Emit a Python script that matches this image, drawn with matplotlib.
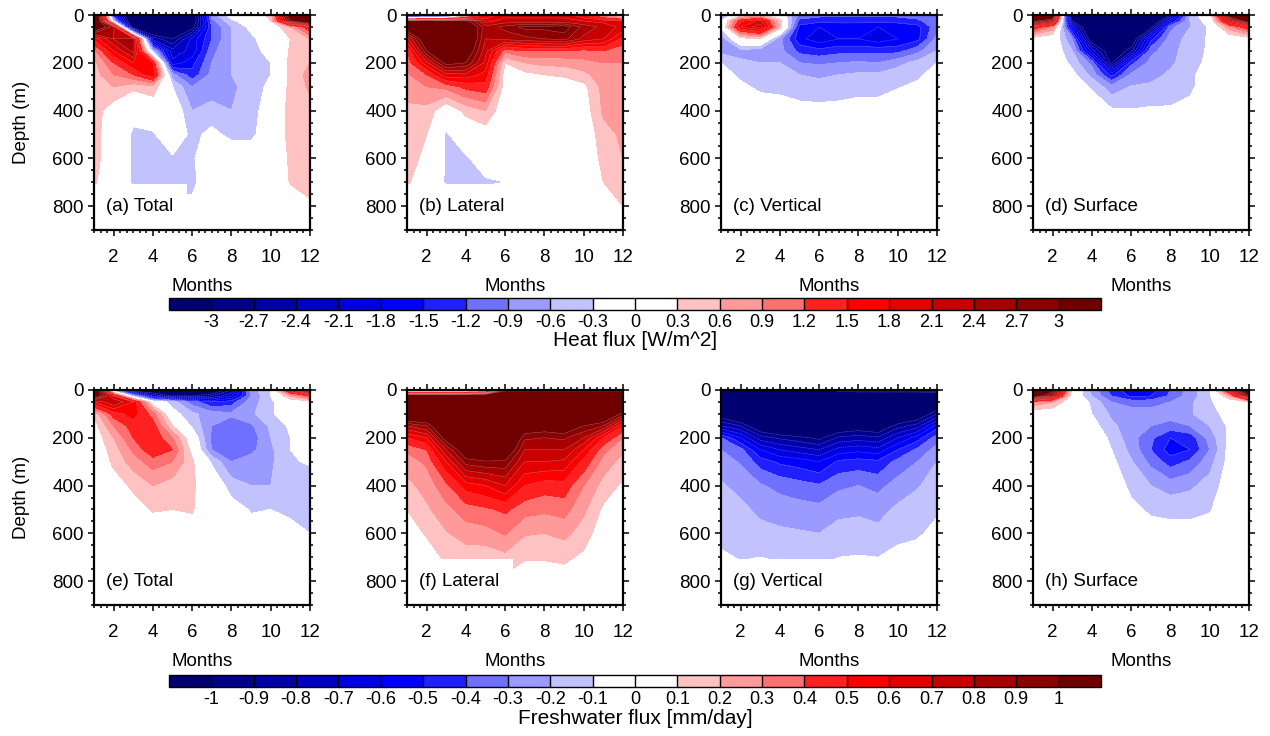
import numpy as np
import matplotlib
matplotlib.use('Agg')
import matplotlib.pyplot as plt
from matplotlib.colors import ListedColormap, BoundaryNorm
from matplotlib.cm import ScalarMappable
from matplotlib.ticker import MultipleLocator

plt.rcParams['font.family'] = ['Liberation Sans', 'DejaVu Sans']

months = [1, 2, 3, 4, 5, 6, 7, 8, 9, 10, 11, 12]
depths = [0, 25, 50, 100, 150, 200, 250, 300, 400, 500, 600, 700, 800, 900]

# heat flux budget terms, rows = depth, columns = month (W/m^2)
heat_total = [
    [4.5, -1.5, -4.0, -4.0, -4.0, -3.5, -0.8, -0.1, 0.0, 0.4, 3.6, 4.5],
    [4.5, -0.5, -4.0, -4.0, -4.0, -3.5, -1.0, -0.4, 0.0, 0.3, 3.0, 4.0],
    [3.8, 2.5, -3.5, -4.0, -4.0, -3.2, -1.2, -0.6, -0.2, 0.0, 0.6, 1.5],
    [1.6, 2.4, 2.6, -2.5, -3.0, -2.0, -1.2, -0.6, -0.4, 0.0, 0.3, 0.6],
    [0.8, 1.8, 2.5, -0.6, -2.3, -2.0, -1.0, -0.6, -0.4, -0.2, 0.35, 0.5],
    [0.5, 1.2, 1.8, 1.5, -2.0, -1.6, -0.9, -0.6, -0.4, -0.3, 0.4, 0.6],
    [0.45, 0.9, 1.2, 1.8, -0.8, -1.4, -0.8, -0.6, -0.4, -0.3, 0.4, 0.7],
    [0.45, 0.6, 0.4, 0.5, -0.3, -0.9, -0.75, -0.65, -0.5, -0.2, 0.4, 0.65],
    [0.45, 0.1, -0.2, 0.0, 0.0, -0.6, -0.5, -0.6, -0.5, 0.0, 0.4, 0.5],
    [0.45, 0.0, -0.35, -0.35, 0.0, -0.4, -0.2, -0.4, -0.4, 0.0, 0.4, 0.5],
    [0.45, 0.0, -0.35, -0.4, -0.35, -0.35, 0.0, 0.0, 0.0, 0.0, 0.35, 0.45],
    [0.35, 0.0, -0.35, -0.4, -0.4, -0.4, 0.0, 0.0, 0.0, 0.0, 0.32, 0.4],
    [0.2, 0.0, -0.2, -0.2, -0.2, -0.2, 0.0, 0.0, 0.0, 0.0, 0.1, 0.25],
    [0.1, 0.0, -0.1, -0.1, -0.1, -0.1, 0.0, 0.0, 0.0, 0.0, 0.0, 0.1],
]

heat_lateral = [
    [-4.0, -3.5, -3.0, -0.3, 1.5, 2.0, 2.0, 2.0, 2.0, 1.5, 0.5, -0.5],
    [3.5, 3.8, 3.5, 3.2, 2.0, 2.2, 2.2, 2.2, 2.2, 2.1, 2.0, 1.8],
    [3.5, 4.0, 4.0, 3.8, 2.5, 2.8, 3.1, 3.1, 3.2, 2.6, 2.3, 2.0],
    [2.0, 3.6, 4.0, 3.8, 2.4, 2.5, 2.6, 2.7, 2.8, 2.3, 2.1, 1.4],
    [1.2, 3.0, 3.6, 3.5, 2.2, 1.0, 1.2, 1.2, 1.2, 1.1, 1.2, 1.0],
    [1.0, 2.0, 3.2, 3.0, 2.0, 0.3, 0.6, 0.7, 0.7, 0.8, 0.9, 0.9],
    [0.85, 1.2, 2.0, 2.0, 1.7, 0.1, 0.2, 0.3, 0.35, 0.5, 0.8, 0.85],
    [0.7, 0.9, 1.0, 1.3, 1.4, 0.1, 0.0, 0.1, 0.1, 0.2, 0.7, 0.8],
    [0.55, 0.5, 0.0, 0.4, 0.6, 0.0, 0.0, 0.0, 0.0, 0.1, 0.65, 0.7],
    [0.5, 0.3, -0.35, 0.0, 0.1, 0.0, 0.0, 0.0, 0.0, 0.0, 0.5, 0.65],
    [0.45, 0.2, -0.35, -0.35, -0.1, 0.0, 0.0, 0.0, 0.0, 0.0, 0.4, 0.6],
    [0.35, 0.05, -0.35, -0.35, -0.35, -0.3, 0.0, 0.0, 0.0, 0.0, 0.3, 0.45],
    [0.2, 0.0, 0.0, 0.0, 0.0, 0.0, 0.0, 0.0, 0.0, 0.0, 0.2, 0.3],
    [0.1, 0.0, 0.0, 0.0, 0.0, 0.0, 0.0, 0.0, 0.0, 0.0, 0.1, 0.1],
]

heat_vertical = [
    [-0.7, 0.1, 0.4, 0.0, -1.0, -1.1, -1.1, -1.1, -1.1, -1.1, -1.0, -0.9],
    [-0.3, 1.4, 1.9, 0.4, -1.3, -1.4, -1.4, -1.4, -1.4, -1.4, -1.3, -0.9],
    [-0.2, 1.8, 2.3, 0.5, -1.6, -1.8, -1.7, -1.7, -1.8, -1.7, -1.6, -1.0],
    [-0.8, 0.15, 0.25, -0.8, -1.7, -2.0, -1.8, -1.8, -2.0, -1.8, -1.6, -0.8],
    [-0.7, -0.7, -0.8, -0.8, -1.3, -1.4, -1.3, -1.3, -1.3, -1.3, -1.0, -0.6],
    [-0.3, -0.55, -0.6, -0.6, -0.9, -0.95, -0.9, -0.85, -0.9, -0.7, -0.5, -0.3],
    [-0.2, -0.35, -0.45, -0.45, -0.6, -0.65, -0.6, -0.55, -0.55, -0.45, -0.35, -0.2],
    [-0.1, -0.25, -0.35, -0.38, -0.45, -0.5, -0.45, -0.42, -0.42, -0.32, -0.25, -0.1],
    [0.0, -0.1, -0.15, -0.15, -0.2, -0.2, -0.2, -0.15, -0.15, -0.1, -0.1, 0.0],
    [0.0, 0.0, 0.0, -0.05, -0.05, -0.1, -0.1, -0.05, -0.05, 0.0, 0.0, 0.0],
    [0.0] * 12,
    [0.0] * 12,
    [0.0] * 12,
    [0.0] * 12,
]

heat_surface = [
    [4.5, 4.0, -4.0, -4.5, -4.5, -4.5, -4.5, -3.0, -0.5, 0.0, 3.5, 4.5],
    [3.2, 2.5, -3.0, -4.5, -4.5, -4.5, -4.0, -1.8, -0.6, -0.1, 2.0, 3.5],
    [1.5, 0.8, -2.0, -4.0, -4.5, -4.0, -3.2, -1.0, -0.6, -0.25, 0.8, 1.5],
    [0.1, 0.0, -0.9, -3.4, -4.0, -3.5, -1.6, -0.75, -0.5, -0.25, 0.0, 0.1],
    [0.0, 0.0, -0.6, -2.2, -3.5, -2.8, -1.0, -0.7, -0.45, -0.25, 0.0, 0.0],
    [0.0, 0.0, -0.4, -1.0, -3.1, -1.3, -0.8, -0.65, -0.45, -0.2, 0.0, 0.0],
    [0.0, 0.0, -0.2, -0.7, -1.6, -0.85, -0.7, -0.55, -0.4, -0.05, 0.0, 0.0],
    [0.0, 0.0, -0.1, -0.35, -0.8, -0.58, -0.55, -0.5, -0.4, 0.0, 0.0, 0.0],
    [0.0, 0.0, 0.0, -0.05, -0.25, -0.28, -0.25, -0.25, -0.15, 0.0, 0.0, 0.0],
    [0.0] * 12,
    [0.0] * 12,
    [0.0] * 12,
    [0.0] * 12,
    [0.0] * 12,
]

# freshwater flux budget terms (mm/day)
fresh_total = [
    [1.5, -0.3, -1.2, -1.2, -1.2, -1.2, -1.2, -0.9, -0.25, -0.1, 0.6, 1.2],
    [1.2, 0.6, -0.2, -0.8, -1.0, -1.0, -0.9, -0.7, -0.3, -0.1, 0.2, 0.4],
    [0.6, 0.8, 0.6, 0.0, -0.15, -0.35, -0.5, -0.45, -0.25, -0.12, 0.0, 0.05],
    [0.12, 0.45, 0.55, 0.35, -0.05, -0.18, -0.25, -0.28, -0.22, -0.12, 0.0, 0.0],
    [0.05, 0.3, 0.45, 0.45, 0.1, -0.12, -0.3, -0.36, -0.32, -0.18, -0.08, 0.0],
    [0.02, 0.2, 0.4, 0.48, 0.3, 0.0, -0.33, -0.4, -0.36, -0.2, -0.1, 0.0],
    [0.0, 0.15, 0.32, 0.48, 0.4, 0.05, -0.3, -0.38, -0.33, -0.22, -0.1, -0.05],
    [0.0, 0.12, 0.25, 0.35, 0.3, 0.12, -0.12, -0.3, -0.25, -0.22, -0.11, -0.09],
    [0.0, 0.05, 0.12, 0.2, 0.15, 0.12, 0.0, -0.15, -0.2, -0.2, -0.15, -0.15],
    [0.0, 0.0, 0.05, 0.11, 0.1, 0.11, 0.0, -0.05, -0.11, -0.1, -0.12, -0.13],
    [0.0, 0.0, 0.0, 0.02, 0.02, 0.05, 0.0, 0.0, -0.05, -0.05, -0.07, -0.1],
    [0.0] * 12,
    [0.0] * 12,
    [0.0] * 12,
]

# lateral / vertical freshwater: one profile per month (transposed below)
fresh_lateral_profiles = [
    [-0.5, 1.5, 1.6, 1.3, 0.8, 0.5, 0.32, 0.25, 0.17, 0.1, 0.05, 0.02, 0.0, 0.0],
    [-0.6, 1.5, 1.6, 1.3, 0.9, 0.6, 0.4, 0.32, 0.24, 0.18, 0.11, 0.05, 0.02, 0.0],
    [-0.6, 1.5, 1.6, 1.5, 1.3, 1.1, 0.8, 0.6, 0.37, 0.27, 0.19, 0.12, 0.05, 0.02],
    [-0.5, 1.5, 1.6, 1.6, 1.5, 1.3, 1.15, 0.95, 0.55, 0.35, 0.25, 0.14, 0.05, 0.02],
    [-0.2, 1.5, 1.6, 1.6, 1.5, 1.35, 1.2, 0.99, 0.6, 0.38, 0.26, 0.14, 0.05, 0.02],
    [0.9, 1.5, 1.6, 1.6, 1.5, 1.35, 1.2, 0.98, 0.7, 0.42, 0.31, 0.17, 0.07, 0.02],
    [0.9, 1.5, 1.6, 1.4, 1.15, 0.92, 0.8, 0.7, 0.5, 0.34, 0.21, 0.11, 0.04, 0.0],
    [0.9, 1.5, 1.6, 1.4, 1.1, 0.9, 0.8, 0.7, 0.45, 0.32, 0.2, 0.11, 0.04, 0.0],
    [0.9, 1.5, 1.6, 1.4, 1.15, 0.92, 0.8, 0.68, 0.46, 0.34, 0.23, 0.12, 0.05, 0.0],
    [0.9, 1.5, 1.6, 1.3, 1.0, 0.8, 0.6, 0.47, 0.3, 0.22, 0.15, 0.08, 0.03, 0.0],
    [0.9, 1.5, 1.6, 1.25, 0.9, 0.5, 0.33, 0.26, 0.16, 0.08, 0.03, 0.0, 0.0, 0.0],
    [0.9, 1.5, 1.4, 0.95, 0.5, 0.3, 0.22, 0.16, 0.08, 0.03, 0.0, 0.0, 0.0, 0.0],
]

fresh_vertical_profiles = [
    [-1.2, -1.4, -1.5, -1.1, -0.8, -0.4, -0.3, -0.26, -0.185, -0.15, -0.12, -0.09, -0.05, -0.02],
    [-1.2, -1.5, -1.6, -1.3, -0.9, -0.6, -0.37, -0.31, -0.24, -0.17, -0.13, -0.105, -0.07, -0.03],
    [-1.2, -1.5, -1.6, -1.4, -1.15, -0.85, -0.6, -0.45, -0.29, -0.23, -0.16, -0.1, -0.06, -0.03],
    [-1.2, -1.5, -1.6, -1.5, -1.25, -0.92, -0.7, -0.52, -0.33, -0.25, -0.18, -0.11, -0.06, -0.03],
    [-1.2, -1.5, -1.6, -1.5, -1.3, -0.97, -0.75, -0.55, -0.36, -0.26, -0.19, -0.115, -0.06, -0.03],
    [-1.1, -1.5, -1.6, -1.5, -1.3, -1.03, -0.8, -0.6, -0.39, -0.27, -0.2, -0.12, -0.07, -0.03],
    [-0.9, -1.4, -1.6, -1.4, -1.15, -0.88, -0.66, -0.48, -0.32, -0.23, -0.16, -0.1, -0.06, -0.03],
    [-0.8, -1.4, -1.6, -1.35, -1.1, -0.85, -0.63, -0.46, -0.3, -0.22, -0.155, -0.095, -0.05, -0.02],
    [-0.8, -1.4, -1.6, -1.4, -1.15, -0.88, -0.66, -0.48, -0.33, -0.24, -0.17, -0.1, -0.06, -0.03],
    [-0.8, -1.4, -1.5, -1.25, -0.95, -0.7, -0.5, -0.37, -0.26, -0.18, -0.12, -0.08, -0.04, -0.02],
    [-0.8, -1.4, -1.5, -1.15, -0.85, -0.55, -0.38, -0.3, -0.21, -0.15, -0.11, -0.07, -0.04, -0.02],
    [-0.8, -1.3, -1.3, -0.9, -0.55, -0.35, -0.26, -0.2, -0.15, -0.11, -0.08, -0.05, -0.03, -0.01],
]

fresh_surface = [
    [1.5, 1.1, 0.05, -0.25, -0.45, -0.55, -0.55, -0.4, -0.25, -0.12, 0.6, 1.4],
    [1.2, 0.8, 0.0, -0.2, -0.4, -0.52, -0.5, -0.38, -0.25, -0.12, 0.2, 1.0],
    [0.3, 0.2, 0.0, -0.12, -0.3, -0.35, -0.35, -0.3, -0.22, -0.12, 0.0, 0.1],
    [0.0, 0.0, 0.0, -0.1, -0.22, -0.24, -0.25, -0.25, -0.21, -0.15, -0.05, 0.0],
    [0.0, 0.0, 0.0, -0.05, -0.18, -0.25, -0.3, -0.34, -0.3, -0.2, -0.08, 0.0],
    [0.0, 0.0, 0.0, 0.0, -0.13, -0.26, -0.38, -0.5, -0.46, -0.26, -0.07, 0.0],
    [0.0, 0.0, 0.0, 0.0, -0.1, -0.23, -0.4, -0.55, -0.5, -0.3, -0.06, 0.0],
    [0.0, 0.0, 0.0, 0.0, -0.07, -0.19, -0.33, -0.45, -0.38, -0.24, -0.06, 0.0],
    [0.0, 0.0, 0.0, 0.0, -0.02, -0.13, -0.2, -0.25, -0.22, -0.16, -0.04, 0.0],
    [0.0, 0.0, 0.0, 0.0, 0.0, -0.07, -0.12, -0.13, -0.13, -0.11, -0.02, 0.0],
    [0.0, 0.0, 0.0, 0.0, 0.0, -0.02, -0.05, -0.06, -0.06, -0.05, 0.0, 0.0],
    [0.0] * 12,
    [0.0] * 12,
    [0.0] * 12,
]

heat_levels = [-3.0, -2.7, -2.4, -2.1, -1.8, -1.5, -1.2, -0.9, -0.6, -0.3, 0.0,
               0.3, 0.6, 0.9, 1.2, 1.5, 1.8, 2.1, 2.4, 2.7, 3.0]
heat_labels = ['-3', '-2.7', '-2.4', '-2.1', '-1.8', '-1.5', '-1.2', '-0.9', '-0.6', '-0.3', '0',
               '0.3', '0.6', '0.9', '1.2', '1.5', '1.8', '2.1', '2.4', '2.7', '3']
fresh_levels = [-1.0, -0.9, -0.8, -0.7, -0.6, -0.5, -0.4, -0.3, -0.2, -0.1, 0.0,
                0.1, 0.2, 0.3, 0.4, 0.5, 0.6, 0.7, 0.8, 0.9, 1.0]
fresh_labels = ['-1', '-0.9', '-0.8', '-0.7', '-0.6', '-0.5', '-0.4', '-0.3', '-0.2', '-0.1', '0',
                '0.1', '0.2', '0.3', '0.4', '0.5', '0.6', '0.7', '0.8', '0.9', '1']

panel_titles = ['(a) Total', '(b) Lateral', '(c) Vertical', '(d) Surface',
                '(e) Total', '(f) Lateral', '(g) Vertical', '(h) Surface']

colors = ['#000070', '#00008A', '#0000A6', '#0000C4', '#0000E2', '#0000FF', '#2020FF',
          '#7070FF', '#9A9AFF', '#C2C2FF', '#FFFFFF', '#FFFFFF', '#FFC2C2', '#FF9A9A',
          '#FF7070', '#FF2020', '#FF0000', '#E20000', '#C80000', '#A80000', '#8C0000', '#700000']

cmap = ListedColormap(colors[1:-1])
cmap.set_under(colors[0])
cmap.set_over(colors[-1])

fig = plt.figure(figsize=(12.7, 7.36), dpi=100)

W, H = 1270.0, 736.0
col_left = [94, 407, 721, 1033]
row_top = [15, 390]
ax_w, ax_h = 216, 215

fields = [heat_total, heat_lateral, heat_vertical, heat_surface,
          fresh_total, np.array(fresh_lateral_profiles).T,
          np.array(fresh_vertical_profiles).T, fresh_surface]


def draw_panel(ax, z, levels, title, first):
    norm = BoundaryNorm(levels, cmap.N)
    z = np.array(z, dtype=float)
    ax.contourf(months, depths, z, levels=levels, cmap=cmap, norm=norm, extend='both')
    # faint seams between the stronger fill bands
    seams = [lv for lv in levels if abs(lv) > abs(levels[-1]) * 0.45]
    ax.contour(months, depths, z, levels=seams, colors='white', linewidths=0.3, alpha=0.45)
    ax.set_xlim(1, 12)
    ax.set_ylim(900, 0)
    ax.set_xticks([2, 4, 6, 8, 10, 12])
    ax.set_yticks([0, 200, 400, 600, 800])
    ax.xaxis.set_minor_locator(MultipleLocator(1 / 3))
    ax.yaxis.set_minor_locator(MultipleLocator(50))
    ax.tick_params(which='both', direction='out', top=True, right=True, width=1.1,
                   labelsize=13.5)
    ax.tick_params(which='major', length=4.5)
    ax.tick_params(which='minor', length=2.5)
    ax.tick_params(axis='x', pad=9)
    ax.tick_params(axis='y', pad=3)
    for sp in ax.spines.values():
        sp.set_linewidth(1.6)
    ax.text(0.055, 0.11, title, transform=ax.transAxes, ha='left', va='center',
            fontsize=13.5, zorder=2.4, clip_on=True,
            bbox=dict(boxstyle='square,pad=0.75', facecolor='white', edgecolor='none'))
    ax.text(0.5, -0.265, 'Months', transform=ax.transAxes, ha='center', va='center',
            fontsize=13.5)
    if first:
        ax.text(-0.335, 0.5, 'Depth (m)', transform=ax.transAxes, ha='center',
                va='center', rotation=90, fontsize=13.5)


for i in range(8):
    r, c = divmod(i, 4)
    rect = [col_left[c] / W, 1 - (row_top[r] + ax_h) / H, ax_w / W, ax_h / H]
    ax = fig.add_axes(rect)
    if r == 0:
        draw_panel(ax, fields[i], heat_levels, panel_titles[i], c == 0)
    else:
        draw_panel(ax, fields[i], fresh_levels, panel_titles[i], c == 0)


def draw_colorbar(top_px, levels, labels, title, title_px):
    cax = fig.add_axes([169 / W, 1 - (top_px + 12) / H, 932 / W, 12 / H])
    norm = BoundaryNorm(levels, cmap.N)
    sm = ScalarMappable(norm=norm, cmap=cmap)
    cb = fig.colorbar(sm, cax=cax, orientation='horizontal', extend='both',
                      extendrect=True, extendfrac=0.05, drawedges=True, ticks=levels)
    cb.ax.set_xticklabels(labels)
    cb.ax.tick_params(length=0, pad=3, labelsize=13)
    cb.outline.set_linewidth(1.0)
    cb.dividers.set_color('black')
    cb.dividers.set_linewidth(1.0)
    fig.text(0.5, 1 - title_px / H, title, ha='center', va='center', fontsize=15)


draw_colorbar(298, heat_levels, heat_labels, 'Heat flux [W/m^2]', 341)
draw_colorbar(675, fresh_levels, fresh_labels, 'Freshwater flux [mm/day]', 718)

fig.savefig('out.png', dpi=100)
